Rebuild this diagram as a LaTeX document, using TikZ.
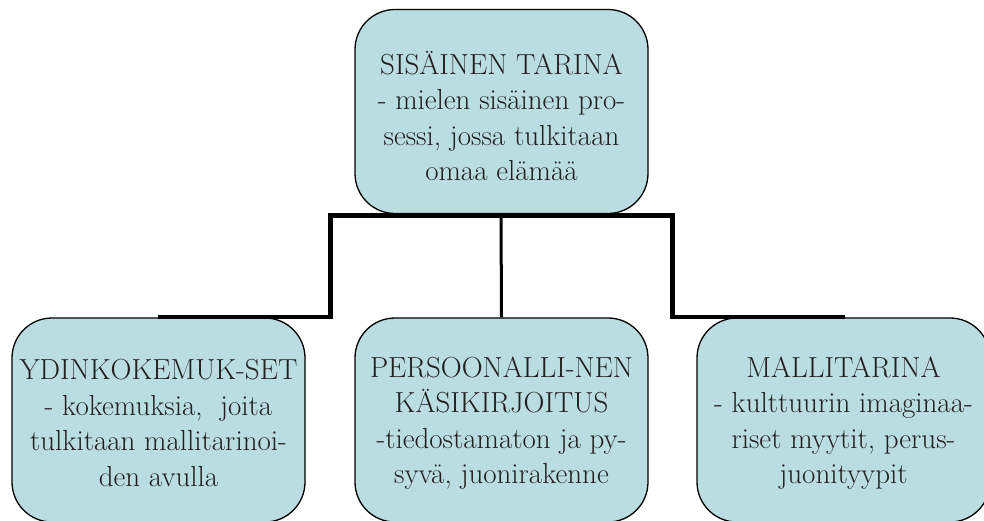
\documentclass[tikz,border=0pt]{standalone}
\usepackage{fontspec}
\definecolor{boxfill}{RGB}{186,221,225}
\definecolor{inktext}{RGB}{35,31,32}
\tikzset{
  box/.style={draw=black, line width=1.3pt, fill=boxfill, rounded corners=40pt,
    minimum width=293pt, minimum height=204pt, inner sep=0pt},
  boxtext/.style={align=center, text=inktext, font=\fontsize{29}{35.5}\selectfont, inner sep=0pt},
  conn/.style={line width=4.5pt, line cap=rect, line join=miter},
  connthin/.style={line width=3pt}
}
\begin{document}
\begin{tikzpicture}[x=1pt,y=-1pt]
\useasboundingbox (0,0) rectangle (984,521);
\node[box] (top) at (501.5,111.5) {};
\node[box] (left) at (158.5,420) {};
\node[box] (mid) at (501.5,420) {};
\node[box] (right) at (843.5,420) {};
\node[boxtext] (toptext) at (501.5,116) {SISÄINEN TARINA\\- mielen sisäinen pro-\\sessi, jossa tulkitaan\\omaa elämää};
\node[boxtext] (lefttext) at (158.5,423) {YDINKOKEMUK-SET\\- kokemuksia,\ \ joita\\tulkitaan mallitarinoi-\\den avulla};
\node[boxtext] (midtext) at (501.5,423) {PERSOONALLI-NEN\\KÄSIKIRJOITUS\\-tiedostamaton ja py-\\syvä, juonirakenne};
\node[boxtext] (righttext) at (843.5,423) {MALLITARINA\\- kulttuurin imaginaa-\\riset myytit, perus-\\juonityypit};
\coordinate (hub) at (501,215.5);
\coordinate (lturn) at (330.5,215.5);
\coordinate (lend) at (160,317);
\coordinate (rturn) at (672.5,215.5);
\coordinate (rend) at (843,317);
\draw[conn] (hub) -- (lturn) |- (lend);
\draw[conn] (hub) -- (rturn) |- (rend);
\draw[connthin] (hub) -- (mid.north);
\end{tikzpicture}
\end{document}
